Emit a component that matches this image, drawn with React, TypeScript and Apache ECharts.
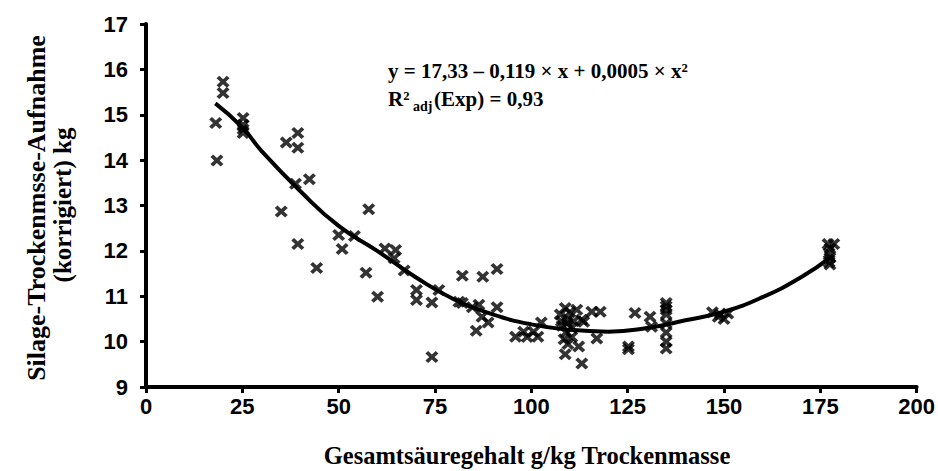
import React, { useEffect, useRef } from "react";
import * as echarts from "echarts";

const xTicks = [0, 25, 50, 75, 100, 125, 150, 175, 200];
const yTicks = [9, 10, 11, 12, 13, 14, 15, 16, 17];

const pointsX = [
  20.0, 20.0, 18.1, 18.4, 25.2, 25.2, 25.2, 25.2,
  36.4, 39.4, 39.4, 38.8, 42.4, 35.1, 39.4, 44.3,
  50.0, 50.9, 54.1, 57.8, 57.1, 60.1, 62.0,
  64.8, 64.4, 67.0, 70.2, 70.2, 74.2, 76.0, 74.2,
  82.1, 81.2, 82.1, 84.7, 87.4, 91.1, 86.4, 91.1, 87.2, 88.8, 85.7,
  95.9, 98.0, 98.9, 101.7, 102.6, 100.6,
  107.5, 108.8, 109.5, 110.0, 108.0, 109.0, 110.5, 108.5, 109.5, 110.5, 107.8, 111.0, 108.8, 111.8, 109.3,
  113.1, 115.7, 117.9, 117.0, 112.3, 113.1, 113.6,
  125.2, 125.2, 126.9, 130.8, 131.2,
  135.0, 135.0, 135.0, 135.0, 135.0, 135.0, 135.0, 135.0,
  147.0, 148.5, 150.0, 149.0, 151.0,
  177.0, 178.5, 177.5, 177.3, 177.5, 177.3, 177.5,
];
const pointsY = [
  15.73, 15.48, 14.82, 13.99, 14.93, 14.78, 14.68, 14.6,
  14.39, 14.6, 14.27, 13.48, 13.58, 12.87, 12.15, 11.62,
  12.35, 12.04, 12.33, 12.92, 11.52, 10.99, 12.05,
  12.02, 11.84, 11.57, 11.14, 10.92, 10.86, 11.14, 9.66,
  11.45, 10.88, 10.85, 10.76, 11.43, 11.6, 10.81, 10.76, 10.55, 10.42, 10.24,
  10.11, 10.22, 10.1, 10.11, 10.42, 10.22,
  10.6, 10.74, 10.5, 10.65, 10.35, 10.2, 10.3, 10.05, 9.95, 10.1, 10.45, 10.45, 9.72, 10.7, 10.4,
  10.48, 10.66, 10.66, 10.07, 9.89, 9.52, 10.44,
  9.89, 9.83, 10.63, 10.55, 10.33,
  10.85, 10.78, 10.7, 10.6, 10.4, 10.2, 10.0, 9.85,
  10.65, 10.55, 10.5, 10.6, 10.62,
  12.15, 12.15, 12.05, 11.95, 11.85, 11.75, 11.7,
];

const curveX = [18, 25, 30, 40, 50, 60, 70, 80, 90, 100, 110, 120, 130, 140, 150, 160, 170, 178];
const curveY = [15.25, 14.72, 14.2, 13.32, 12.55, 12.0, 11.42, 10.93, 10.6, 10.38, 10.26, 10.22, 10.3, 10.47, 10.66, 10.98, 11.42, 11.88];

const xTitle = "Gesamtsäuregehalt g/kg Trockenmasse";
const yTitle1 = "Silage-Trockenmsse-Aufnahme";
const yTitle2 = "(korrigiert) kg";
const eqLine = "y = 17,33 – 0,119 × x + 0,0005 × x²";
const r2Main = "R²";
const r2Sub = "adj";
const r2Rest = "(Exp) = 0,93";

const SERIF = "'Liberation Serif', 'Times New Roman', serif";
const SANS = "'Liberation Sans', Arial, sans-serif";
const CROSS =
  "path://M2.5,0 L6,3.5 L9.5,0 L12,2.5 L8.5,6 L12,9.5 L9.5,12 L6,8.5 L2.5,12 L0,9.5 L3.5,6 L0,2.5 Z";

export default function App() {
  const ref = useRef<HTMLDivElement>(null);
  useEffect(() => {
    document.body.style.margin = "0";
    if (!ref.current) return;
    const chart = echarts.init(ref.current, undefined, { renderer: "svg" });
    const axisCommon = {
      axisLine: { show: true, lineStyle: { color: "#000", width: 4 } },
      axisTick: { show: true, inside: false, length: 6, lineStyle: { color: "#000", width: 3 } },
      splitLine: { show: false },
    };
    chart.setOption({
      animation: false,
      backgroundColor: "#fff",
      grid: { left: 146, right: 19, top: 24, bottom: 84 },
      xAxis: {
        type: "value",
        min: 0,
        max: 200,
        interval: 25,
        ...axisCommon,
        axisLabel: {
          color: "#000",
          fontFamily: SANS,
          fontWeight: "bold",
          fontSize: 22,
          margin: 8,
          formatter: (v: number) => (xTicks.includes(v) ? String(v) : ""),
        },
      },
      yAxis: {
        type: "value",
        min: 9,
        max: 17,
        interval: 1,
        ...axisCommon,
        axisLabel: {
          color: "#000",
          fontFamily: SANS,
          fontWeight: "bold",
          fontSize: 22,
          margin: 18,
          formatter: (v: number) => (yTicks.includes(v) ? String(v) : ""),
        },
      },
      series: [
        {
          type: "scatter",
          data: pointsX.map((x, i) => [x, pointsY[i]]),
          symbol: CROSS,
          symbolSize: [13, 12],
          itemStyle: { color: "#000" },
          z: 2,
        },
        {
          type: "line",
          data: curveX.map((x, i) => [x, curveY[i]]),
          smooth: true,
          showSymbol: false,
          symbol: "none",
          lineStyle: { color: "#000", width: 4 },
          z: 3,
        },
      ],
      graphic: [
        {
          type: "text",
          x: 36,
          y: 208,
          rotation: Math.PI / 2,
          style: { text: yTitle1, font: `bold 26px ${SERIF}`, fill: "#000", align: "center", verticalAlign: "middle" },
        },
        {
          type: "text",
          x: 62,
          y: 205,
          rotation: Math.PI / 2,
          style: { text: yTitle2, font: `bold 25px ${SERIF}`, fill: "#000", align: "center", verticalAlign: "middle" },
        },
        {
          type: "text",
          x: 527,
          y: 455,
          style: { text: xTitle, font: `bold 24.5px ${SERIF}`, fill: "#000", align: "center", verticalAlign: "middle" },
        },
        {
          type: "text",
          x: 388,
          y: 71,
          style: { text: eqLine, font: `bold 21px ${SERIF}`, fill: "#000", align: "left", verticalAlign: "middle" },
        },
        {
          type: "text",
          x: 388,
          y: 99,
          style: { text: r2Main, font: `bold 21px ${SERIF}`, fill: "#000", align: "left", verticalAlign: "middle" },
        },
        {
          type: "text",
          x: 413,
          y: 106,
          style: { text: r2Sub, font: `bold 14px ${SERIF}`, fill: "#000", align: "left", verticalAlign: "middle" },
        },
        {
          type: "text",
          x: 434,
          y: 99,
          style: { text: r2Rest, font: `bold 21px ${SERIF}`, fill: "#000", align: "left", verticalAlign: "middle" },
        },
      ],
    });
    return () => chart.dispose();
  }, []);
  return <div ref={ref} style={{ width: 938, height: 471 }} />;
}
